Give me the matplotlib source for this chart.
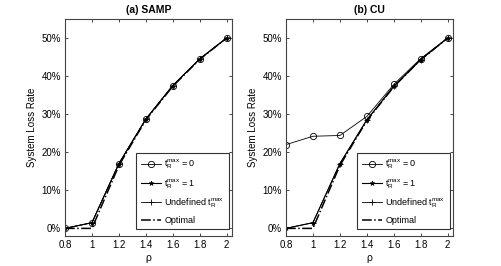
"""Loss rate vs rho for SAMP and CU."""
import matplotlib
matplotlib.use("Agg")
import matplotlib.pyplot as plt
from matplotlib.ticker import FuncFormatter

plt.rcParams["font.family"] = ["Liberation Sans", "DejaVu Sans"]
plt.rcParams["mathtext.fontset"] = "custom"
plt.rcParams["mathtext.rm"] = "Liberation Sans"
plt.rcParams["mathtext.it"] = "Liberation Sans"

rho = [0.8, 1.0, 1.2, 1.4, 1.6, 1.8, 2.0]

samp_t0 = [0.0, 1.5, 17.0, 28.7, 37.5, 44.5, 50.0]
samp_t1 = [0.0, 1.5, 17.0, 28.7, 37.5, 44.5, 50.0]
samp_undef = [0.0, 1.5, 17.0, 28.7, 37.5, 44.5, 50.0]
samp_opt = [0.0, 0.0, 16.5, 28.5, 37.3, 44.4, 50.0]

cu_t0 = [22.0, 24.2, 24.4, 29.4, 37.8, 44.6, 50.0]
cu_t1 = [0.0, 1.5, 17.0, 28.5, 37.3, 44.3, 50.0]
cu_undef = [0.0, 1.5, 17.0, 28.5, 37.3, 44.3, 50.0]
cu_opt = [0.0, 0.0, 16.5, 28.3, 37.2, 44.3, 50.0]

titles = ["(a) SAMP", "(b) CU"]
labels = [r"t$_R^{max}$ = 0", r"t$_R^{max}$ = 1", r"Undefined t$_R^{max}$", "Optimal"]

fig = plt.figure(figsize=(5.01, 2.66), dpi=100)
axes = [fig.add_axes([65 / 501, 30 / 266, 167 / 501, 217 / 266]),
        fig.add_axes([286 / 501, 30 / 266, 167 / 501, 217 / 266])]

data = [(samp_t0, samp_t1, samp_undef, samp_opt), (cu_t0, cu_t1, cu_undef, cu_opt)]

for ax, title, (t0, t1, und, opt) in zip(axes, titles, data):
    ax.plot(rho, t0, color="black", lw=0.6, marker="o", ms=4.5, mfc="none", mew=0.6,
            label=labels[0])
    ax.plot(rho, t1, color="black", lw=0.8, marker="*", ms=3.5, mew=0.5, label=labels[1])
    ax.plot(rho, und, color="black", lw=0.6, marker="+", ms=5, mew=0.6, label=labels[2])
    ax.plot(rho, opt, color="black", lw=1.1, ls="-.", label=labels[3])

    ax.set_xlim(0.8, 2.04)
    ax.set_ylim(-2, 55)
    ax.set_xticks([0.8, 1, 1.2, 1.4, 1.6, 1.8, 2])
    ax.set_xticklabels(["0.8", "1", "1.2", "1.4", "1.6", "1.8", "2"])
    ax.set_yticks([0, 10, 20, 30, 40, 50])
    ax.yaxis.set_major_formatter(FuncFormatter(lambda v, p: f"{v:.0f}%"))
    ax.tick_params(direction="in", top=True, right=True, labelsize=7, length=2.5,
                   width=0.5, pad=3)
    for s in ax.spines.values():
        s.set_linewidth(0.8)
        s.set_color("#444444")
    ax.set_title(title, fontsize=7.5, fontweight="bold", pad=4)
    ax.set_xlabel("ρ", fontsize=7.5, labelpad=2)
    ax.set_ylabel("System Loss Rate", fontsize=7, labelpad=3)

    leg = ax.legend(loc="lower right", fontsize=6.5, frameon=True, fancybox=False,
                    edgecolor="black", handlelength=2.2, labelspacing=0.65,
                    borderpad=0.5, handletextpad=0.4, borderaxespad=0,
                    bbox_to_anchor=(0.98, 0.03))
    leg.get_frame().set_linewidth(0.8)

fig.savefig("out.png", dpi=100)
